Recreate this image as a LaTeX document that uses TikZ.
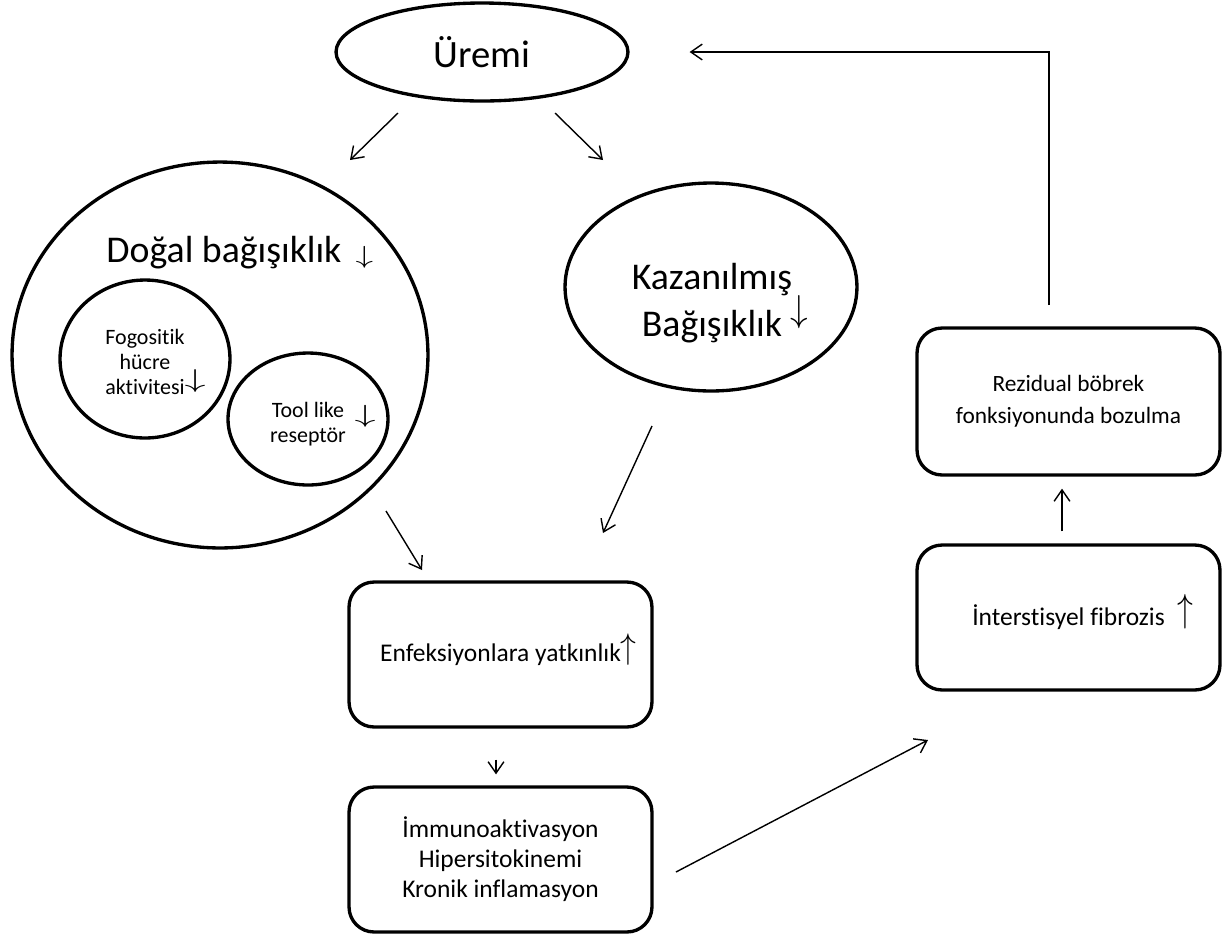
\documentclass[tikz,border=0pt]{standalone}
\usepackage{fontspec}
\usepackage{graphicx}
\setmainfont[Ligatures=NoCommon]{Carlito}
\usetikzlibrary{shapes.geometric,arrows.meta}

% tall arrow sign hanging after a word:
% [#1] gap before it, #2 arrow command, #3 width, #4 height, #5 raise
\newcommand\garr[5][]{\rlap{#1\raisebox{#5}[0pt][0pt]{\resizebox*{#3}{#4}{$#2$}}}}

\begin{document}
\begin{tikzpicture}[x=0.02cm,y=-0.02cm,
  bubble/.style={draw, line width=1.9pt, ellipse, inner sep=0pt, align=center},
  box/.style={draw, line width=1.9pt, rounded corners=0.5cm, minimum width=6.06cm,
              minimum height=2.9cm, align=center, inner sep=0pt},
  conn/.style={line width=0.8pt, -{Straight Barb[length=6.5pt,width=9pt,line width=0.8pt]}},
  big/.style={font=\fontsize{21.5}{26.5}\selectfont},
  small/.style={font=\fontsize{12.5}{14.3}\selectfont},
  mid/.style={font=\fontsize{14.5}{17}\selectfont}]
\useasboundingbox (0,0) rectangle (1232,938);

% ovals
\node[bubble, minimum width=5.84cm, minimum height=1.96cm,
      font=\fontsize{22}{26}\selectfont] (uremi) at (482,52) {Üremi};
\node[bubble, minimum width=8.32cm, minimum height=7.72cm] (dogal) at (220,355) {};
\node[big, anchor=base] (dogalt) at (224,262)
  {Doğal bağışıklık\garr[\hspace{8pt}]{\downarrow}{10pt}{12.5pt}{-0.6pt}};
\node[bubble, minimum width=3.4cm, minimum height=3.16cm] (fog) at (145,359) {};
\node[small, align=center] (fogt) at (145,362)
  {Fogositik\\hücre\\aktivitesi\garr{\downarrow}{12pt}{13pt}{4pt}};
\node[bubble, minimum width=3.2cm, minimum height=2.64cm] (tool) at (308,419) {};
\node[small, align=center] (toolt) at (308,424)
  {Tool like\garr[\hspace{6pt}]{\downarrow}{12pt}{12.5pt}{-3pt}\\reseptör};
\node[bubble, minimum width=5.84cm, minimum height=4.16cm] (kaz) at (711,287) {};
\node[big, align=center] (kazt) at (712,303)
  {Kazanılmış\\Bağışıklık\garr[\hspace{5pt}]{\downarrow}{10pt}{19pt}{8.6pt}};

% boxes
\node[box, mid] (enf) at (500.5,654.5)
  {Enfeksiyonlara yatkınlık\garr{\uparrow}{9pt}{18pt}{1.7pt}};
\node[box, mid] (imm) at (500.5,859.5)
  {İmmunoaktivasyon\\Hipersitokinemi\\Kronik inflamasyon};
\node[box, font=\fontsize{13.3}{18}\selectfont, minimum height=2.94cm] (rez) at (1068.5,401.5)
  {Rezidual böbrek\\fonksiyonunda bozulma};
\node[box, mid] (inter) at (1068.5,617.5)
  {İnterstisyel fibrozis\garr[\hspace{7pt}]{\uparrow}{9pt}{19.8pt}{2.7pt}};

% connector end points
\coordinate (u1) at (398,113);  \coordinate (d1) at (350,160);
\coordinate (u2) at (555,113);  \coordinate (k1) at (603,160);
\coordinate (d2) at (386,511);  \coordinate (e1) at (422,570);
\coordinate (k2) at (652,426);  \coordinate (e2) at (603,533);
\coordinate (i1) at (676,872);  \coordinate (t1) at (928,740);
\coordinate (loop) at (1049,305);

% connectors
\draw[conn] (u1) -- (d1);
\draw[conn] (u2) -- (k1);
\draw[conn] (d2) -- (e1);
\draw[conn] (k2) -- (e2);
\draw[conn] ([xshift=-0.09cm,yshift=-0.62cm]enf.south) -- ([xshift=-0.09cm,yshift=0.22cm]imm.north);
\draw[conn] (i1) -- (t1);
\draw[conn] ([xshift=-0.13cm,yshift=0.24cm]inter.north) -- ([xshift=-0.13cm,yshift=-0.24cm]rez.south);
\draw[conn] (loop) |- ([xshift=1.2cm]uremi.east);
\end{tikzpicture}
\end{document}
